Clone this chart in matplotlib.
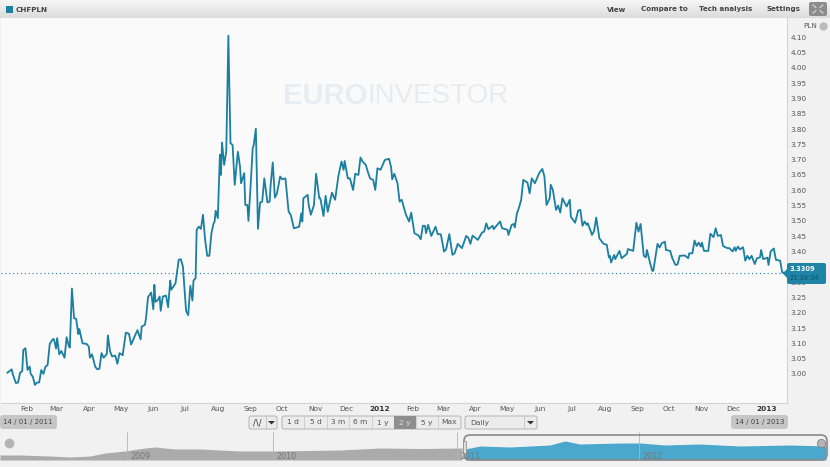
import numpy as np
import pandas as pd
import matplotlib
matplotlib.use("Agg")
import matplotlib.pyplot as plt
from matplotlib.patches import FancyBboxPatch, Rectangle, Polygon

# days since 14/01/2011, closing price in PLN
days = [0, 4, 5, 8, 10, 12, 14, 15, 17, 19, 21, 22, 24, 26, 28, 30, 32, 34, 36, 38,
        40, 43, 44, 46, 47, 49, 51, 54, 56, 58, 59, 61, 63, 65, 67, 68, 71, 75, 77, 78,
        80, 83, 85, 87, 89, 91, 94, 95, 97, 99, 102, 104, 106, 109, 112, 115, 117, 120, 123, 126,
        127, 130, 131, 133, 136, 138, 139, 140, 142, 144, 145, 147, 150, 152, 154, 155, 159, 162, 164, 166,
        169, 171, 173, 175, 176, 178, 179, 181, 183, 185, 187, 189, 191, 193, 195, 196, 197, 199, 201, 202,
        203, 205, 207, 209, 211, 213, 215, 218, 220, 221, 224, 225, 227, 228, 230, 232, 233, 235, 237, 239,
        241, 243, 246, 248, 249, 251, 253, 255, 258, 260, 263, 266, 268, 271, 276, 278, 279, 280, 284, 285,
        287, 290, 292, 295, 296, 299, 301, 303, 307, 310, 313, 316, 318, 319, 322, 324, 327, 329, 332, 334,
        336, 339, 341, 343, 346, 348, 350, 353, 357, 361, 363, 364, 366, 369, 371, 373, 377, 380, 382, 385,
        389, 391, 393, 395, 396, 398, 401, 405, 407, 410, 413, 415, 418, 421, 423, 426, 430, 434, 436, 438,
        440, 445, 449, 451, 453, 455, 459, 460, 466, 468, 473, 474, 477, 479, 480, 482, 484, 486, 488, 492,
        494, 496, 499, 503, 506, 508, 510, 513, 514, 516, 519, 521, 523, 525, 529, 532, 533, 537, 540, 542,
        544, 546, 548, 549, 552, 553, 555, 557, 560, 564, 567, 569, 570, 571, 574, 575, 579, 581, 586, 587,
        592, 595, 597, 599, 602, 604, 605, 608, 610, 611, 615, 617, 619, 622, 623, 627, 629, 632, 634, 636,
        641, 644, 645, 648, 650, 652, 654, 656, 657, 659, 663, 665, 668, 670, 672, 675, 677, 681, 683, 686,
        688, 689, 691, 693, 696, 698, 700, 702, 704, 707, 709, 712, 713, 715, 719, 720, 722, 725, 727, 731,
        733, 736]
prices = [3.004, 3.015, 3.000, 2.970, 2.972, 3.004, 3.009, 3.078, 3.084, 3.013, 3.024, 3.000, 2.991, 2.964, 2.972, 2.972, 3.013, 3.000, 3.024, 3.029,
          3.098, 3.114, 3.113, 3.083, 3.117, 3.064, 3.075, 3.053, 3.120, 3.092, 3.086, 3.279, 3.182, 3.180, 3.130, 3.147, 3.100, 3.098, 3.089, 3.053,
          3.064, 3.024, 3.015, 3.017, 3.068, 3.053, 3.065, 3.126, 3.075, 3.057, 3.060, 3.033, 3.068, 3.061, 3.135, 3.131, 3.096, 3.120, 3.143, 3.113,
          3.155, 3.160, 3.180, 3.251, 3.266, 3.211, 3.291, 3.236, 3.240, 3.253, 3.206, 3.253, 3.256, 3.218, 3.305, 3.275, 3.296, 3.373, 3.375, 3.351,
          3.206, 3.192, 3.288, 3.240, 3.305, 3.313, 3.471, 3.481, 3.474, 3.520, 3.438, 3.386, 3.386, 3.460, 3.492, 3.498, 3.533, 3.509, 3.716, 3.650,
          3.756, 3.683, 3.726, 4.105, 3.754, 3.748, 3.618, 3.726, 3.678, 3.623, 3.656, 3.552, 3.552, 3.500, 3.612, 3.737, 3.748, 3.801, 3.474, 3.560,
          3.563, 3.639, 3.560, 3.563, 3.618, 3.691, 3.576, 3.590, 3.645, 3.636, 3.639, 3.530, 3.520, 3.476, 3.481, 3.525, 3.498, 3.574, 3.585, 3.552,
          3.520, 3.552, 3.654, 3.574, 3.574, 3.516, 3.582, 3.530, 3.592, 3.569, 3.645, 3.694, 3.667, 3.696, 3.639, 3.639, 3.601, 3.654, 3.650, 3.707,
          3.694, 3.683, 3.660, 3.639, 3.634, 3.601, 3.672, 3.667, 3.699, 3.703, 3.675, 3.636, 3.654, 3.623, 3.563, 3.569, 3.520, 3.498, 3.527, 3.460,
          3.452, 3.440, 3.484, 3.484, 3.460, 3.487, 3.451, 3.481, 3.457, 3.456, 3.400, 3.407, 3.457, 3.389, 3.394, 3.425, 3.411, 3.451, 3.445, 3.425,
          3.452, 3.438, 3.462, 3.465, 3.492, 3.473, 3.484, 3.473, 3.498, 3.476, 3.471, 3.454, 3.487, 3.490, 3.479, 3.525, 3.544, 3.569, 3.634, 3.625,
          3.590, 3.639, 3.623, 3.656, 3.670, 3.645, 3.552, 3.574, 3.618, 3.601, 3.536, 3.550, 3.527, 3.574, 3.547, 3.569, 3.514, 3.494, 3.534, 3.536,
          3.484, 3.498, 3.487, 3.492, 3.465, 3.454, 3.467, 3.511, 3.443, 3.425, 3.422, 3.381, 3.386, 3.364, 3.389, 3.375, 3.402, 3.378, 3.392, 3.408,
          3.402, 3.494, 3.465, 3.490, 3.386, 3.381, 3.405, 3.362, 3.337, 3.337, 3.425, 3.413, 3.427, 3.432, 3.405, 3.402, 3.378, 3.356, 3.358, 3.386,
          3.387, 3.378, 3.394, 3.394, 3.436, 3.418, 3.429, 3.416, 3.429, 3.402, 3.402, 3.458, 3.447, 3.476, 3.451, 3.454, 3.418, 3.411, 3.411, 3.400,
          3.414, 3.402, 3.416, 3.407, 3.414, 3.370, 3.386, 3.375, 3.386, 3.359, 3.378, 3.381, 3.405, 3.375, 3.380, 3.356, 3.400, 3.410, 3.373, 3.370,
          3.331, 3.331]
last_price = 3.3309

month_labels = ["Feb", "Mar", "Apr", "May", "Jun", "Jul", "Aug", "Sep", "Oct", "Nov", "Dec", "2012",
                "Feb", "Mar", "Apr", "May", "Jun", "Jul", "Aug", "Sep", "Oct", "Nov", "Dec", "2013"]
price_ticks = [3.00, 3.05, 3.10, 3.15, 3.20, 3.25, 3.30, 3.35, 3.40, 3.45, 3.50, 3.55,
               3.60, 3.65, 3.70, 3.75, 3.80, 3.85, 3.90, 3.95, 4.00, 4.05, 4.10]

periods = ["1 d", "5 d", "3 m", "6 m", "1 y", "2 y", "5 y", "Max"]
menu_items = ["View", "Compare to", "Tech analysis", "Settings"]

# overview strip under the chart
hist_x = [0, 20, 50, 70, 90, 105, 125, 145, 155, 175, 200, 240, 275, 340, 380, 420, 462]
hist_h = [5, 5, 4, 3, 4, 7, 9, 12, 13, 11, 11, 9, 9, 10, 12, 11.5, 12]
sel_x = [465, 480, 510, 530, 550, 565, 580, 620, 640, 665, 700, 740, 790, 826]
sel_h = [11, 14, 13, 14, 15, 19, 16, 17, 17, 15, 16, 14, 15, 14]
year_x = [127, 273, 457, 639]
year_labels = ["2009", "2010", "2011", "2012"]

W, H = 830, 467
LINE = "#1a7fa1"
TXT = "#555555"


def add_box(ax, x0, y0, x1, y1, fc, ec="none", r=2, z=2):
    ax.add_patch(FancyBboxPatch((x0 + r, y0 + r), x1 - x0 - 2 * r, y1 - y0 - 2 * r,
                                boxstyle="round,pad=%g,rounding_size=%g" % (r, r),
                                fc=fc, ec=ec, lw=0.6, zorder=z))


def main():
    fig = plt.figure(figsize=(W / 100, H / 100), dpi=100, facecolor="#f1f1f1")
    plt.rcParams["font.family"] = "DejaVu Sans"

    # main chart, axes placed by pixel box 1..787 x 18..403
    ax = fig.add_axes([1 / W, 1 - 403 / H, 786 / W, 385 / H], facecolor="#fafafa")
    ax.plot(days, prices, color=LINE, lw=1.3, zorder=3, solid_joinstyle="round")
    ax.axhline(last_price, color=LINE, lw=0.8, ls=(0, (1, 2.5)), zorder=2)
    ax.set_ylim(2.905, 4.163)
    ax.set_xlim(-6.1, 737.5)

    month_starts = pd.date_range("2011-02-01", periods=len(month_labels), freq="MS")
    month_days = (month_starts - pd.Timestamp("2011-01-14")).days
    ax.set_xticks(month_days)
    ax.set_xticklabels(month_labels, fontsize=5.3, color=TXT)
    for lab in ax.get_xticklabels():
        if lab.get_text().startswith("201"):
            lab.set_fontweight("bold")
            lab.set_color("#333333")
    ax.yaxis.tick_right()
    ax.set_yticks(price_ticks)
    ax.set_yticklabels(["%.2f" % p for p in price_ticks], fontsize=5.2, color=TXT)
    ax.tick_params(length=0, pad=2.5)
    for side in ["top", "left"]:
        ax.spines[side].set_visible(False)
    for side in ["bottom", "right"]:
        ax.spines[side].set_color("#d4d4d4")

    # overview strip
    nav = fig.add_axes([0, 1 - 460 / H, 1, 28 / H], facecolor="#ededed")
    nav.fill_between(hist_x, 0, hist_h, color="#ababab", lw=0)
    nav.fill_between(sel_x, 0, sel_h, color="#4aa8cd", lw=0)
    nav.set_xlim(0, W)
    nav.set_ylim(0, 28)
    nav.axis("off")
    nav.vlines(year_x, 0, 28, color="#b5b5b5", lw=0.6)
    for x, lab in zip(year_x, year_labels):
        nav.text(x + 3, 3.5, lab, fontsize=5.8, color="#777777", va="center")

    # chrome on top, in pixel coordinates
    ui = fig.add_axes([0, 0, 1, 1], facecolor="none")
    ui.set_xlim(0, W)
    ui.set_ylim(H, 0)
    ui.axis("off")

    grad = np.linspace(0.96, 0.86, 18).reshape(-1, 1)
    ui.imshow(grad, extent=(0, W, 18, 0), cmap="gray", vmin=0, vmax=1, aspect="auto", zorder=1)
    ui.set_xlim(0, W)
    ui.set_ylim(H, 0)
    ui.add_patch(Rectangle((6, 6), 7, 7, fc="#1f7f9f", zorder=2))
    ui.text(15.5, 9.5, "CHFPLN", fontsize=5.2, fontweight="bold", color="#444444", va="center", zorder=3)
    for x, lab in zip([617, 664, 726, 783], menu_items):
        ui.text(x, 9.5, lab, fontsize=5.1, fontweight="bold", color="#444444", va="center", ha="center", zorder=3)

    # full screen button, four corner marks
    add_box(ui, 809, 2, 827, 16, "#8c8c8c")
    for dx, dy in [(-1, -1), (1, -1), (-1, 1), (1, 1)]:
        ui.plot([818 + 2 * dx, 818 + 5 * dx], [9 + 1.5 * dy, 9 + 4 * dy], color="#dddddd", lw=0.8, zorder=3)

    ui.text(817, 26, "PLN", fontsize=5.2, color=TXT, ha="right", va="center")
    ui.plot([823], [26], "o", ms=5, color="#bbbbbb", zorder=3)

    # watermark
    ui.text(367, 96, "EURO", fontsize=21, fontweight="bold", color="#e6eef4", ha="right", va="center",
            family="Liberation Sans", zorder=1)
    ui.text(367, 96, "INVESTOR", fontsize=20, color="#e9ebed", ha="left", va="center",
            family="Liberation Sans", zorder=1)

    # last price tag
    add_box(ui, 787, 263, 826, 284, "#1f84a6", z=5)
    ui.add_patch(Polygon([[787, 269], [783, 273.5], [787, 278]], fc="#1f84a6", ec="none", zorder=5))
    ui.text(790, 269, "%.4f" % last_price, fontsize=4.8, fontweight="bold", color="white", va="center", zorder=6)
    ui.text(790, 277.5, "21:38:34", fontsize=4.8, color="#0f5068", va="center", zorder=6)

    # date boxes and range buttons
    add_box(ui, 0, 415, 57, 429, "#c6c6c6", r=3)
    ui.text(28, 422, "14 / 01 / 2011", fontsize=5, color="#444444", ha="center", va="center", zorder=3)
    add_box(ui, 731, 415, 788, 429, "#c6c6c6", r=3)
    ui.text(760, 422, "14 / 01 / 2013", fontsize=5, color="#444444", ha="center", va="center", zorder=3)

    add_box(ui, 249, 416, 277, 429, "#ececec", ec="#aaaaaa")
    ui.plot([265.5, 265.5], [416, 429], color="#bbbbbb", lw=0.5, zorder=3)
    ui.text(257.5, 422.5, "/\\/", fontsize=6, color="#333333", ha="center", va="center", zorder=3)
    ui.add_patch(Polygon([[268, 421], [275, 421], [271.5, 424.5]], fc="#333333", ec="none", zorder=3))

    add_box(ui, 282, 416, 461, 429, "#ececec", ec="#aaaaaa")
    edges = [282, 304, 327, 349, 372, 394, 416, 438, 461]
    for i, lab in enumerate(periods):
        if lab == "2 y":
            ui.add_patch(Rectangle((edges[i], 416), edges[i + 1] - edges[i], 13, fc="#8e8e8e", zorder=3))
        elif i:
            ui.plot([edges[i]] * 2, [416, 429], color="#c4c4c4", lw=0.5, zorder=3)
        ui.text((edges[i] + edges[i + 1]) / 2, 422.5, lab, fontsize=5.4, ha="center", va="center", zorder=4,
                color="#dddddd" if lab == "2 y" else "#555555")

    add_box(ui, 465, 416, 537, 429, "#ececec", ec="#aaaaaa")
    ui.text(470, 422.5, "Daily", fontsize=5.4, color="#555555", va="center", zorder=3)
    ui.plot([524, 524], [416, 429], color="#bbbbbb", lw=0.5, zorder=3)
    ui.add_patch(Polygon([[527, 421], [534, 421], [530.5, 424.5]], fc="#333333", ec="none", zorder=3))

    # overview selection frame and handles
    add_box(ui, 464, 435, 827, 460, "none", ec="#8a8a8a", r=6)
    ui.patches[-1].set_linewidth(1.2)
    ui.plot([9], [443], "o", ms=6, color="#b4b4b4", zorder=3)
    ui.plot([820.5], [443], "o", ms=6, color="#b4b4b4", mec="#777777", mew=0.5, zorder=3)
    ui.add_patch(Rectangle((463, 441), 3, 12, fc="#dddddd", ec="#888888", lw=0.5, zorder=3))

    fig.savefig("out.png", dpi=100, facecolor=fig.get_facecolor())


if __name__ == "__main__":
    main()
